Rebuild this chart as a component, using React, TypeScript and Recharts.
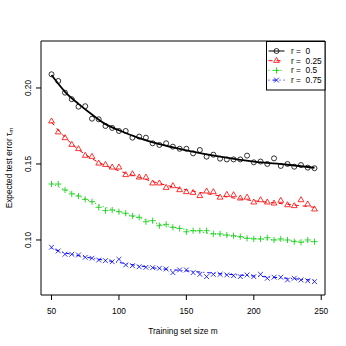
import React from "react";
import { LineChart, Line, XAxis, YAxis, ReferenceArea, Legend } from "recharts";

// training set sizes m
const sizes = [
  50, 55, 60, 65, 70, 75, 80, 85, 90, 95, 100, 105, 110, 115, 120, 125, 130,
  135, 140, 145, 150, 155, 160, 165, 170, 175, 180, 185, 190, 195, 200, 205,
  210, 215, 220, 225, 230, 235, 240, 245,
];

// observed test error for each r
const errR0 = [
  0.209, 0.2046, 0.1969, 0.1926, 0.1877, 0.188, 0.1798, 0.1794, 0.175, 0.1737,
  0.1717, 0.1717, 0.1673, 0.168, 0.1673, 0.1636, 0.1625, 0.1636, 0.1614, 0.16,
  0.16, 0.157, 0.1592, 0.1548, 0.1561, 0.1535, 0.153, 0.153, 0.153, 0.1555,
  0.1511, 0.1516, 0.15, 0.1537, 0.1487, 0.15, 0.1482, 0.1493, 0.1476, 0.1472,
];
const errR25 = [
  0.1781, 0.1709, 0.1671, 0.1627, 0.1599, 0.1555, 0.1548, 0.1504, 0.1495,
  0.1478, 0.1478, 0.1428, 0.1434, 0.1412, 0.1412, 0.1373, 0.1373, 0.1344,
  0.1355, 0.1329, 0.1316, 0.1311, 0.129, 0.132, 0.1316, 0.128, 0.1298, 0.1296,
  0.1274, 0.128, 0.1248, 0.1263, 0.1248, 0.1241, 0.1259, 0.123, 0.1224, 0.1263,
  0.1235, 0.1202,
];
const errR50 = [
  0.1368, 0.1368, 0.1329, 0.1303, 0.1289, 0.1267, 0.1252, 0.1215, 0.1193,
  0.1197, 0.1186, 0.1176, 0.1158, 0.1149, 0.112, 0.1127, 0.1094, 0.1103,
  0.1083, 0.1076, 0.1054, 0.1061, 0.1061, 0.1061, 0.104, 0.104, 0.1033, 0.1028,
  0.1022, 0.1011, 0.1007, 0.1007, 0.1015, 0.1, 0.1007, 0.1, 0.0989, 0.0985,
  0.1, 0.0989,
];
const errR75 = [
  0.0952, 0.0928, 0.0906, 0.0906, 0.0901, 0.0886, 0.088, 0.0868, 0.0864,
  0.0857, 0.0873, 0.0836, 0.0831, 0.0824, 0.082, 0.0818, 0.0814, 0.0809,
  0.0785, 0.0803, 0.0803, 0.0785, 0.0774, 0.0759, 0.0774, 0.0774, 0.077,
  0.0765, 0.0759, 0.077, 0.0759, 0.0774, 0.0748, 0.0755, 0.0755, 0.0737,
  0.0748, 0.0737, 0.0732, 0.0726,
];

// fitted curves, read at a few sizes
const fitSizes = [50, 60, 70, 80, 90, 100, 115, 130, 150, 175, 200, 225, 245];
const fitR0 = [0.2085, 0.1975, 0.1895, 0.1825, 0.1762, 0.1722, 0.167, 0.163, 0.159, 0.1548, 0.1515, 0.1495, 0.1475];
const fitR25 = [0.1775, 0.1675, 0.1595, 0.1535, 0.149, 0.1455, 0.1412, 0.1372, 0.133, 0.129, 0.1258, 0.1235, 0.1215];
const fitR50 = [0.1372, 0.133, 0.129, 0.125, 0.1215, 0.1185, 0.1145, 0.1105, 0.1068, 0.1035, 0.101, 0.0997, 0.0988];
const fitR75 = [0.0945, 0.0915, 0.0897, 0.088, 0.0866, 0.0852, 0.083, 0.0812, 0.0797, 0.0778, 0.0763, 0.0748, 0.0735];

const xTicks = [50, 100, 150, 200, 250];
const yTicks = [0.1, 0.15, 0.2];
const rLabels = ["0", "0.25", "0.5", "0.75"];

const colors = ["#000000", "#FF0000", "#00CD00", "#0000FF"];
const dashes = [undefined, "4 4", "1 3", "1 3 4 3"];
const kinds = ["circle", "triangle", "plus", "cross"];

const FONT = '"Liberation Sans", Arial, Helvetica, sans-serif';
const FS = 8.3;

const fitAt = (arr: number[], m: number) => {
  const j = fitSizes.indexOf(m);
  return j >= 0 ? arr[j] : null;
};

const data = sizes.map((m, i) => ({
  m,
  p0: errR0[i],
  p1: errR25[i],
  p2: errR50[i],
  p3: errR75[i],
  f0: fitAt(fitR0, m),
  f1: fitAt(fitR25, m),
  f2: fitAt(fitR50, m),
  f3: fitAt(fitR75, m),
}));

function Marker({ kind, cx, cy, color }: { kind: string; cx: number; cy: number; color: string }) {
  const sw = 0.8;
  if (kind === "circle")
    return <circle cx={cx} cy={cy} r={2.5} fill="none" stroke={color} strokeWidth={sw} />;
  if (kind === "triangle")
    return (
      <path
        d={`M${cx},${cy - 3.3}L${cx + 2.9},${cy + 1.7}L${cx - 2.9},${cy + 1.7}Z`}
        fill="none"
        stroke={color}
        strokeWidth={sw}
      />
    );
  if (kind === "plus")
    return (
      <path
        d={`M${cx - 3.1},${cy}H${cx + 3.1}M${cx},${cy - 3.1}V${cy + 3.1}`}
        stroke={color}
        strokeWidth={sw}
      />
    );
  return (
    <path
      d={`M${cx - 2.4},${cy - 2.4}L${cx + 2.4},${cy + 2.4}M${cx - 2.4},${cy + 2.4}L${cx + 2.4},${cy - 2.4}`}
      stroke={color}
      strokeWidth={sw}
    />
  );
}

const XTick = ({ x, y, payload }: any) => (
  <text x={x} y={y + 11} textAnchor="middle" dominantBaseline="central" fontFamily={FONT} fontSize={FS} fill="#000">
    {payload.value}
  </text>
);

const YTick = ({ x, y, payload }: any) => (
  <text
    x={x - 8}
    y={y}
    transform={`rotate(-90 ${x - 8} ${y})`}
    textAnchor="middle"
    dominantBaseline="central"
    fontFamily={FONT}
    fontSize={FS}
    fill="#000"
  >
    {payload.value.toFixed(2)}
  </text>
);

const LegendBox = () => (
  <svg width={60} height={50} style={{ display: "block" }}>
    <rect x={0.5} y={0.5} width={58.5} height={48.5} fill="#fff" stroke="#000" strokeWidth={1} />
    {rLabels.map((r, i) => {
      const y = 10 + i * 9.7;
      return (
        <g key={r}>
          <line x1={2.5} x2={18.5} y1={y} y2={y} stroke={colors[i]} strokeDasharray={dashes[i]} strokeWidth={1} />
          <Marker kind={kinds[i]} cx={10.5} cy={y} color={colors[i]} />
          <text x={25} y={y} dominantBaseline="central" fontFamily={FONT} fontSize={FS} fill="#000" style={{ whiteSpace: "pre" }}>
            {`r =  ${r}`}
          </text>
        </g>
      );
    })}
  </svg>
);

export default function App() {
  return (
    <div style={{ position: "absolute", left: 0, top: 0, width: 346, height: 346, background: "#fff" }}>
      <LineChart width={346} height={346} data={data} margin={{ top: 41, right: 21, bottom: 0, left: 0 }}>
        <XAxis
          dataKey="m"
          type="number"
          domain={[42.2, 252.8]}
          ticks={xTicks}
          axisLine={false}
          tickSize={5}
          tickMargin={0}
          tickLine={{ stroke: "#000" }}
          tick={<XTick />}
          height={51}
          interval={0}
          label={{
            content: ({ viewBox }: any) => (
              <text
                x={viewBox.x + viewBox.width / 2}
                y={331}
                textAnchor="middle"
                dominantBaseline="central"
                fontFamily={FONT}
                fontSize={FS}
                fill="#000"
              >
                Training set size m
              </text>
            ),
          }}
        />
        <YAxis
          type="number"
          domain={[0.0638, 0.2309]}
          ticks={yTicks}
          axisLine={false}
          tickSize={5}
          tickMargin={0}
          tickLine={{ stroke: "#000" }}
          tick={<YTick />}
          width={41}
          interval={0}
          label={{
            content: ({ viewBox }: any) => {
              const cy = viewBox.y + viewBox.height / 2;
              return (
                <text
                  x={9}
                  y={cy}
                  transform={`rotate(-90 9 ${cy})`}
                  textAnchor="middle"
                  dominantBaseline="central"
                  fontFamily={FONT}
                  fontSize={FS}
                  fill="#000"
                >
                  Expected test error{"  "}τ
                  <tspan fontSize={6} dy={2}>m</tspan>
                </text>
              );
            },
          }}
        />
        <ReferenceArea
          x1={42.2}
          x2={252.8}
          y1={0.0638}
          y2={0.2309}
          fill="none"
          fillOpacity={0}
          stroke="#000"
          strokeWidth={1}
          ifOverflow="visible"
        />
        {["f0", "f1", "f2", "f3"].map((k, i) => (
          <Line
            key={k}
            dataKey={k}
            type="monotone"
            connectNulls
            stroke={colors[i]}
            strokeWidth={i === 0 ? 1.8 : 1}
            strokeDasharray={dashes[i]}
            dot={false}
            activeDot={false}
            isAnimationActive={false}
            legendType="none"
          />
        ))}
        {["p0", "p1", "p2", "p3"].map((k, i) => (
          <Line
            key={k}
            dataKey={k}
            type="linear"
            stroke="none"
            dot={(p: any) => <Marker key={`${k}-${p.index}`} kind={kinds[i]} cx={p.cx} cy={p.cy} color={colors[i]} />}
            activeDot={false}
            isAnimationActive={false}
          />
        ))}
        <Legend
          layout="vertical"
          align="center"
          verticalAlign="middle"
          wrapperStyle={{ left: 266, top: 41, width: 60, height: 50 }}
          content={() => <LegendBox />}
        />
      </LineChart>
    </div>
  );
}
